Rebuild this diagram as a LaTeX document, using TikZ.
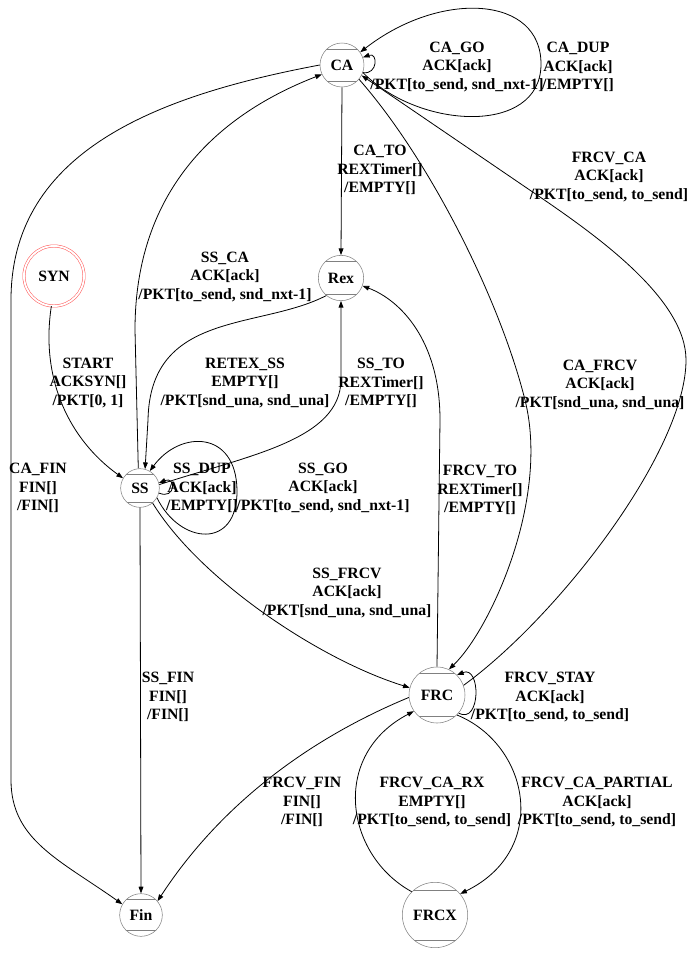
\documentclass[tikz,border=0pt]{standalone}
\usepackage{fontspec}
\setmainfont{Liberation Serif}
\usepackage{tikz}
\usetikzlibrary{arrows.meta, calc}

\begin{document}
\begin{tikzpicture}[
    x=0.75pt, y=-0.75pt,
    chords/.style={path picture={
        \draw[black!50] ($(path picture bounding box.north west)!#1!(path picture bounding box.south west)$) -- ($(path picture bounding box.north east)!#1!(path picture bounding box.south east)$);
        \draw[black!50] ($(path picture bounding box.south west)!#1!(path picture bounding box.north west)$) -- ($(path picture bounding box.south east)!#1!(path picture bounding box.north east)$);}},
    mstate/.style={circle, draw=black!50, inner sep=0pt, font=\fontsize{11.8}{13.5}\selectfont\bfseries, chords=0.14},
    synstate/.style={circle, draw=red!65, double, double distance=1.4pt, inner sep=0pt, minimum size=45pt, font=\fontsize{11.8}{13.5}\selectfont\bfseries},
    lbl/.style={align=center, inner sep=0pt, font=\fontsize{11.8}{13.75}\selectfont\bfseries},
    arrow/.style={-{Triangle[length=5pt, width=3.6pt]}, line width=0.6pt}
]
    \useasboundingbox (0,0) rectangle (688,954);

    \node[mstate, minimum size=33pt] (CA) at (342,65) {CA};
    \node[synstate] (SYN) at (54,276) {SYN};
    \node[mstate, minimum size=34pt] (Rex) at (341,278) {Rex};
    \node[mstate, minimum size=29pt] (SS) at (140,488) {SS};
    \node[mstate, minimum size=42pt, chords=0.12] (FRC) at (437,695) {FRC};
    \node[mstate, minimum size=32pt] (Fin) at (141,915) {Fin};
    \node[mstate, minimum size=49pt, chords=0.12] (FRCX) at (435,915) {FRCX};

    \node[lbl] (cago) at (457,67) {CA\_GO\\ACK[ack]\\/PKT[to\_send, snd\_nxt-1]};
    \node[lbl] (cadup) at (578,67) {CA\_DUP\\ACK[ack]\\/EMPTY[]};
    \node[lbl] (cato) at (380,170) {CA\_TO\\REXTimer[]\\/EMPTY[]};
    \node[lbl] (frcvca) at (609,177) {FRCV\_CA\\ACK[ack]\\/PKT[to\_send, to\_send]};
    \node[lbl] (ssca) at (225,277) {SS\_CA\\ACK[ack]\\/PKT[to\_send, snd\_nxt-1]};
    \node[lbl] (start) at (88,383) {START\\ACKSYN[]\\/PKT[0, 1]};
    \node[lbl] (retexss) at (245,383) {RETEX\_SS\\EMPTY[]\\/PKT[snd\_una, snd\_una]};
    \node[lbl] (ssto) at (381,383) {SS\_TO\\REXTimer[]\\/EMPTY[]};
    \node[lbl] (cafrcv) at (600,385) {CA\_FRCV\\ACK[ack]\\/PKT[snd\_una, snd\_una]};
    \node[lbl] (cafin) at (38,488) {CA\_FIN\\FIN[]\\/FIN[]};
    \node[lbl] (ssdup) at (202,488) {SS\_DUP\\ACK[ack]\\/EMPTY[]};
    \node[lbl] (ssgo) at (323,488) {SS\_GO\\ACK[ack]\\/PKT[to\_send, snd\_nxt-1]};
    \node[lbl] (frcvto) at (480,490) {FRCV\_TO\\REXTimer[]\\/EMPTY[]};
    \node[lbl] (ssfrcv) at (347,593) {SS\_FRCV\\ACK[ack]\\/PKT[snd\_una, snd\_una]};
    \node[lbl] (ssfin) at (168,697) {SS\_FIN\\FIN[]\\/FIN[]};
    \node[lbl] (frcvstay) at (550,697) {FRCV\_STAY\\ACK[ack]\\/PKT[to\_send, to\_send]};
    \node[lbl] (frcvfin) at (302,802) {FRCV\_FIN\\FIN[]\\/FIN[]};
    \node[lbl] (frcvcarx) at (432,802) {FRCV\_CA\_RX\\EMPTY[]\\/PKT[to\_send, to\_send]};
    \node[lbl] (frcvcapart) at (597,802) {FRCV\_CA\_PARTIAL\\ACK[ack]\\/PKT[to\_send, to\_send]};

    \draw[arrow] (CA.-20) .. controls (378,75) and (378,52) .. (CA.20);
    \draw[arrow] (CA.-20) .. controls (420,130) and (540,135) .. (541,65) .. controls (542,-5) and (440,-10) .. (CA.35);
    \draw[arrow] (CA.south) -- (Rex.north);
    \draw[arrow] (CA.-40) .. controls (430,160) and (500,300) .. (525,400) .. controls (550,500) and (490,630) .. (FRC.65);
    \draw[arrow] (FRC.20) .. controls (560,615) and (686,450) .. (686,360) .. controls (686,300) and (600,238) .. (540,197) -- (CA.-28);
    \draw[arrow] (CA.180) .. controls (160,95) and (11,150) .. (11,300) -- (11,780) .. controls (11,840) and (60,860) .. (Fin.150);
    \draw[arrow] (SS.95) -- (135,330) .. controls (135,180) and (230,110) .. (CA.205);
    \draw[arrow] (SYN.265) .. controls (40,380) and (70,440) .. (SS.150);
    \draw[arrow] (Rex.230) .. controls (260,330) and (150,310) .. (148,420) -- (SS.75);
    \draw[arrow] (SS.10) .. controls (250,455) and (340,440) .. (341,380) -- (Rex.south);
    \draw[arrow] (SS.-15) .. controls (176,500) and (176,476) .. (SS.15);
    \draw[arrow] (SS.-30) .. controls (180,545) and (238,550) .. (237,490) .. controls (236,430) and (180,430) .. (SS.60);
    \draw[arrow] (SS.-50) .. controls (200,580) and (320,660) .. (FRC.165);
    \draw[arrow] (SS.south) -- (Fin.north);
    \draw[arrow] (FRC.north) -- (440,420) .. controls (440,340) and (400,300) .. (Rex.-20);
    \draw[arrow] (FRC.-40) .. controls (481,725) and (481,665) .. (FRC.45);
    \draw[arrow] (FRC.185) .. controls (330,730) and (230,790) .. (Fin.40);
    \draw[arrow] (FRCX.135) .. controls (345,855) and (330,755) .. (FRC.215);
    \draw[arrow] (FRC.-45) .. controls (530,745) and (550,850) .. (FRCX.40);
\end{tikzpicture}
\end{document}
